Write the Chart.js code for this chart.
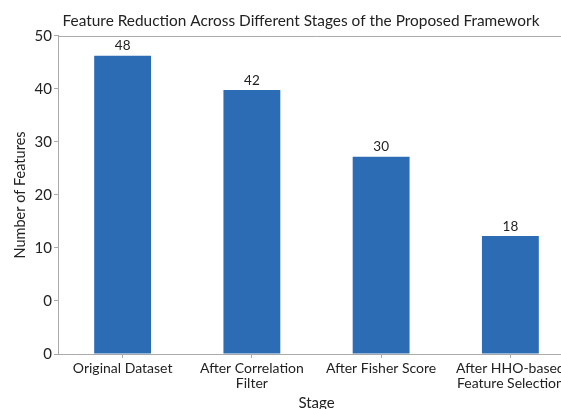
<!DOCTYPE html>
<html>
<head>
<meta charset="utf-8">
<script src="https://cdn.jsdelivr.net/npm/chart.js@4/dist/chart.umd.min.js"></script>
<style>
html,body{margin:0;padding:0;background:#fff;overflow:hidden;width:561px;height:409px;}
canvas{display:block;}
</style>
</head>
<body>
<canvas id="c" width="602" height="412"></canvas>
<script>
// Data
const stages = ["Original Dataset", ["After Correlation", "Filter"], "After Fisher Score", ["After HHO-based", "Feature Selection"]];
const barHeights = [46.9, 41.5, 31.0, 18.55];   // drawn bar heights on the 0–50 axis
const valueLabels = ["48", "42", "30", "18"];    // numbers printed above bars
const yTickLabels = ["0", "0", "10", "20", "30", "40", "50"]; // printed tick labels, bottom to top
const yMin = 0, yMax = 50;

const FONT = "Lato, sans-serif";
const TEXT = '#222';
const AXIS = '#aaaaaa';

const valueLabelPlugin = {
  id: 'valueLabels',
  afterDatasetsDraw(chart) {
    const ctx = chart.ctx;
    const meta = chart.getDatasetMeta(0);
    ctx.save();
    ctx.font = "13.5px " + FONT;
    ctx.fillStyle = TEXT;
    ctx.textAlign = 'center';
    ctx.textBaseline = 'bottom';
    meta.data.forEach((bar, i) => {
      ctx.fillText(valueLabels[i], bar.x, bar.y - 3);
    });
    ctx.restore();
  }
};

const topBorderPlugin = {
  id: 'topBorder',
  afterDraw(chart) {
    const {ctx, chartArea} = chart;
    ctx.save();
    ctx.strokeStyle = AXIS;
    ctx.lineWidth = 1;
    ctx.beginPath();
    ctx.moveTo(chartArea.left, chartArea.top + 0.5);
    ctx.lineTo(chartArea.right, chartArea.top + 0.5);
    ctx.stroke();
    ctx.restore();
  }
};

new Chart(document.getElementById('c'), {
  type: 'bar',
  data: {
    labels: stages,
    datasets: [{
      data: barHeights,
      backgroundColor: '#2b6cb5',
      borderWidth: 0,
      barPercentage: 0.88,
      categoryPercentage: 0.5
    }]
  },
  options: {
    responsive: false,
    animation: false,
    devicePixelRatio: 1,
    layout: {padding: 0},
    plugins: {
      legend: {display: false},
      tooltip: {enabled: false},
      title: {
        display: true,
        text: 'Feature Reduction Across Different Stages of the Proposed Framework',
        color: TEXT,
        font: {family: FONT, size: 15.4, weight: 'normal', lineHeight: 1.2},
        padding: {top: 12, bottom: 5.5}
      }
    },
    scales: {
      x: {
        grid: {display: true, drawOnChartArea: false, offset: false, tickLength: 4, color: AXIS},
        border: {color: AXIS},
        ticks: {color: TEXT, font: {family: FONT, size: 14, lineHeight: 1.05}, padding: 3, maxRotation: 0, autoSkip: false},
        title: {display: true, text: 'Stage', color: TEXT, font: {family: FONT, size: 15}, padding: {top: 0, bottom: 0}},
        afterFit(scale) { scale.height = 58; }
      },
      y: {
        min: yMin,
        max: yMax,
        grid: {display: true, drawOnChartArea: false, tickLength: 4, color: AXIS},
        border: {color: AXIS},
        afterBuildTicks(scale) {
          scale.ticks = yTickLabels.map((_, i) => ({value: yMin + (yMax - yMin) * i / (yTickLabels.length - 1)}));
        },
        ticks: {
          color: TEXT,
          font: {family: FONT, size: 15},
          padding: 2,
          callback: (v, i) => yTickLabels[i]
        },
        title: {display: true, text: 'Number of Features', color: TEXT, font: {family: FONT, size: 14.5}, padding: {top: 12, bottom: 0}},
        afterFit(scale) { scale.width = 58; }
      },
      yRight: {
        position: 'right',
        min: yMin,
        max: yMax,
        grid: {display: false},
        border: {display: false},
        ticks: {display: false},
        afterFit(scale) { scale.width = 27; }
      }
    }
  },
  plugins: [valueLabelPlugin, topBorderPlugin]
});
</script>
</body>
</html>
